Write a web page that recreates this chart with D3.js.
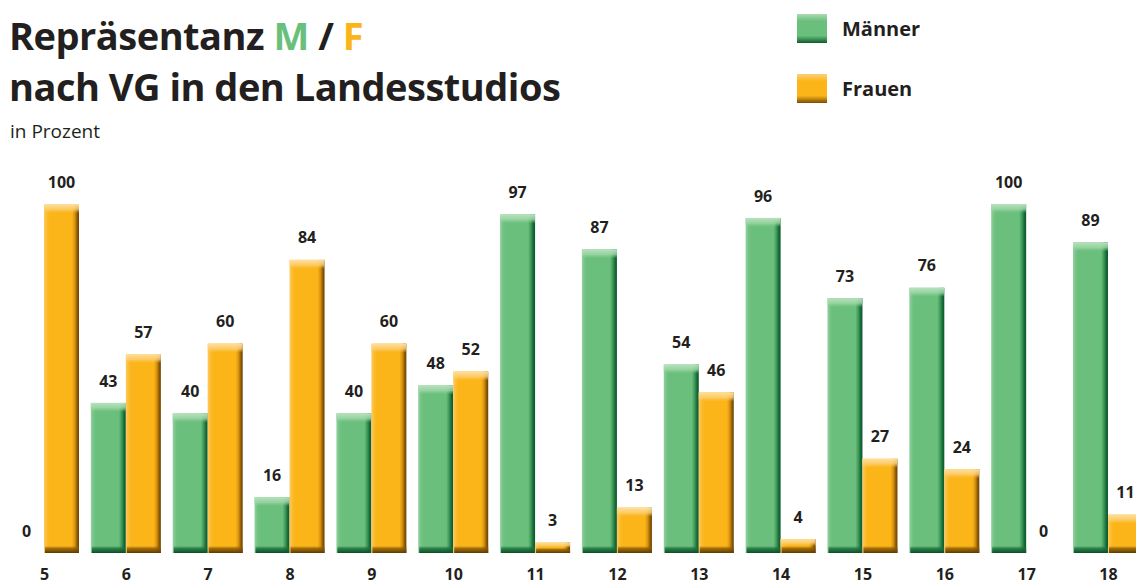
<!DOCTYPE html>
<html>
<head>
<meta charset="utf-8">
<script src="https://cdn.jsdelivr.net/npm/d3@7"></script>
<style>
  html, body { margin: 0; padding: 0; background: #fff; }
  svg { display: block; font-family: "Open Sans", "DejaVu Sans", sans-serif; }
</style>
</head>
<body>
<svg id="chart" width="1136" height="585"></svg>
<script>
// Vergütungsgruppen (VG) 5–18
const categories = ["5", "6", "7", "8", "9", "10", "11", "12", "13", "14", "15", "16", "17", "18"];
// Anteil Männer in Prozent
const maenner = [0, 43, 40, 16, 40, 48, 97, 87, 54, 96, 73, 76, 100, 89];
// Anteil Frauen in Prozent
const frauen = [100, 57, 60, 84, 60, 52, 3, 13, 46, 4, 27, 24, 0, 11];
const seriesNames = ["Männer", "Frauen"];

const svg = d3.select("#chart");
const ink = "#231f20";
const green = "#6abf7c", orange = "#fbb518";

// ---- gradients for the bevelled bars ----
const defs = svg.append("defs");
function grad(id, vertical, stops) {
  const g = defs.append("linearGradient").attr("id", id)
    .attr("x1", "0").attr("y1", "0")
    .attr("x2", vertical ? "0" : "1").attr("y2", vertical ? "1" : "0");
  stops.forEach(([o, c, a]) => g.append("stop").attr("offset", o)
    .attr("stop-color", c).attr("stop-opacity", a == null ? 1 : a));
}
grad("gBody", false, [[0, "#93d19f"], [0.09, "#72c283"], [0.16, green], [0.8, green], [0.88, "#3f9a57"], [0.95, "#16693a"], [1, "#0b5a2c"]]);
grad("oBody", false, [[0, "#fdc961"], [0.09, "#fbbb2a"], [0.16, orange], [0.8, orange], [0.88, "#d8940e"], [0.95, "#8f5a05"], [1, "#6a4200"]]);
grad("gTop", true, [[0, "#b7e2bd", 1], [0.55, "#a3d9ab", 0.8], [1, "#8ccf98", 0]]);
grad("oTop", true, [[0, "#fee0a0", 1], [0.55, "#fdd27c", 0.8], [1, "#fdc961", 0]]);
grad("gBot", true, [[0, "#1c6f3d", 0], [0.35, "#1c6f3d", 0.8], [1, "#0b4e25", 1]]);
grad("oBot", true, [[0, "#8a5a05", 0], [0.35, "#8a5a05", 0.8], [1, "#5e3a00", 1]]);
grad("gLegend", true, [[0, "#a9dbb1"], [0.25, green], [0.75, green], [1, "#0e5c2e"]]);
grad("oLegend", true, [[0, "#fdd17a"], [0.25, orange], [0.75, orange], [1, "#7a4c02"]]);

// ---- scales ----
const baseY = 553;
const y = d3.scaleLinear().domain([0, 100]).range([baseY, 204]);
const x = d3.scalePoint().domain(categories).range([44, 1108]);
const barW = 35;

const data = categories.map((c, i) => ({ cat: c, m: maenner[i], f: frauen[i] }));

// ---- bars ----
function drawBar(g, x0, v, key) {
  const top = y(v), h = baseY - top;
  if (h <= 0) return;
  g.append("rect").attr("x", x0).attr("y", top).attr("width", barW).attr("height", h)
    .attr("fill", `url(#${key}Body)`);
  const capH = Math.min(9, h / 2);
  g.append("rect").attr("x", x0).attr("y", top).attr("width", barW).attr("height", capH)
    .attr("fill", `url(#${key}Top)`);
  const botH = Math.min(7, h / 2);
  g.append("rect").attr("x", x0 + 1).attr("y", baseY - botH).attr("width", barW - 1).attr("height", botH)
    .attr("fill", `url(#${key}Bot)`);
}

function valueLabel(g, cx, v) {
  g.append("text").attr("x", cx).attr("y", y(v) - 22).attr("dy", "0.35em")
    .attr("text-anchor", "middle").attr("font-weight", 700).attr("font-size", 16).attr("fill", ink)
    .text(v);
}

const groups = svg.append("g").selectAll("g").data(data).join("g");
groups.each(function (d) {
  const g = d3.select(this);
  const cx = x(d.cat);
  drawBar(g, cx - barW, d.m, "g");
  drawBar(g, cx, d.f, "o");
  valueLabel(g, cx - barW / 2, d.m);
  valueLabel(g, cx + barW / 2, d.f);
});

// ---- category axis ----
const axis = d3.axisBottom(x).tickSize(0).tickPadding(0);
const ax = svg.append("g").attr("transform", `translate(0, ${baseY + 16})`).call(axis);
ax.select(".domain").remove();
ax.selectAll("text").attr("font-size", 16).attr("font-weight", 700).attr("fill", ink)
  .attr("font-family", "'Open Sans', sans-serif");

// ---- title ----
const t1 = svg.append("text").attr("x", 9).attr("y", 50).attr("font-size", 38).attr("font-weight", 700)
  .attr("fill", ink).attr("font-family", "'Open Sans', sans-serif").attr("letter-spacing", "-0.5");
t1.append("tspan").text("Repräsentanz ");
t1.append("tspan").attr("fill", green).text("M");
t1.append("tspan").text("  /  ");
t1.append("tspan").attr("fill", orange).text("F");
svg.append("text").attr("x", 9).attr("y", 101).attr("font-size", 38).attr("font-weight", 700)
  .attr("fill", ink).attr("font-family", "'Open Sans', sans-serif").attr("letter-spacing", "-0.5")
  .text("nach VG in den Landesstudios");
svg.append("text").attr("x", 10).attr("y", 138).attr("font-size", 19)
  .attr("fill", ink).attr("font-family", "'Open Sans', sans-serif")
  .text("in Prozent");

// ---- legend ----
const legend = svg.append("g");
seriesNames.forEach((name, i) => {
  const ly = 14 + i * 60;
  legend.append("rect").attr("x", 797).attr("y", ly).attr("width", 30).attr("height", 29)
    .attr("fill", `url(#${i === 0 ? "g" : "o"}Legend)`);
  legend.append("text").attr("x", 842).attr("y", ly + 15).attr("dy", "0.35em")
    .attr("font-size", 20).attr("font-weight", 700).attr("fill", ink).text(name);
});
</script>
</body>
</html>
